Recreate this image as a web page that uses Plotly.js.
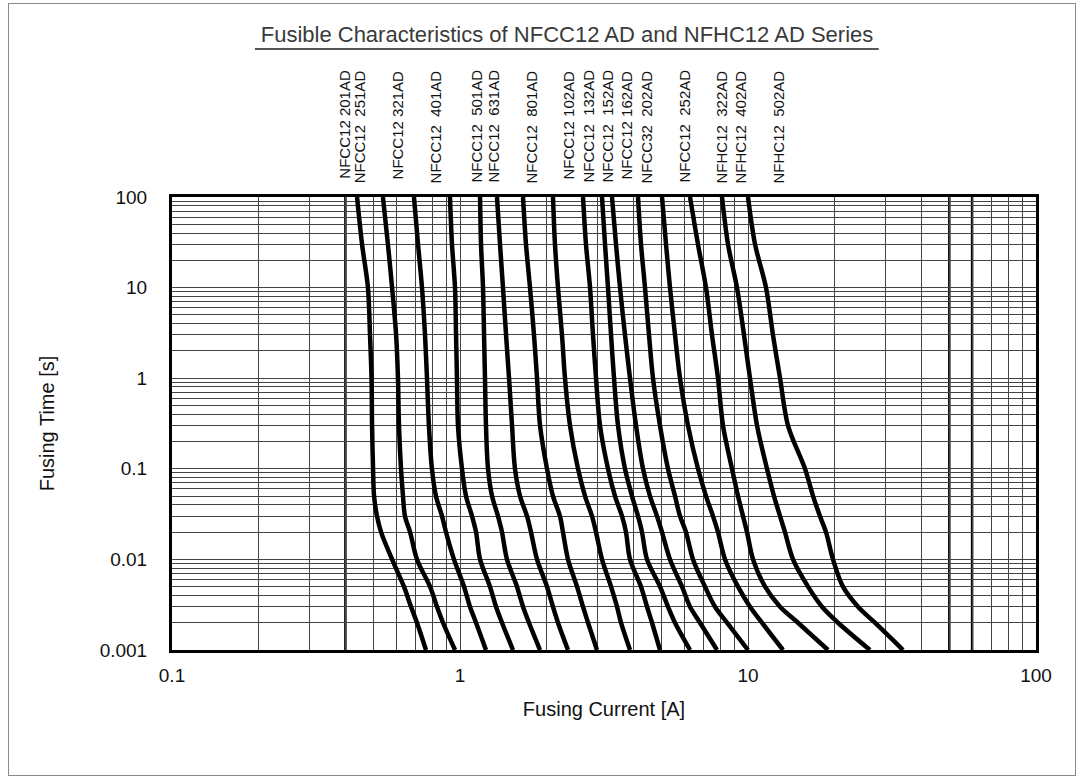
<!DOCTYPE html>
<html><head><meta charset="utf-8">
<script src="https://cdn.plot.ly/plotly-3.0.1.min.js"></script>
<style>
html,body{margin:0;padding:0;background:#fff;}
#frame{position:absolute;left:8px;top:3px;width:1068px;height:773px;border:1px solid #8a8a8a;box-sizing:border-box;}
#chart{position:absolute;left:0;top:0;width:1081px;height:776px;}
</style></head><body>
<div id="frame"></div>
<div id="chart"></div>
<script>
// Fusing time grid (s), shared by all curves
const fuseTimes = [100, 30, 10, 3, 1, 0.3, 0.1, 0.05, 0.03, 0.02, 0.01, 0.005, 0.003, 0.002, 0.001];

// Fusing current (A) of each part at the times above
const NFCC12_201AD = [0.439, 0.457, 0.479, 0.487, 0.493, 0.495, 0.499, 0.503, 0.515, 0.532, 0.581, 0.639, 0.676, 0.709, 0.762];
const NFCC12_251AD = [0.540, 0.562, 0.581, 0.600, 0.609, 0.614, 0.624, 0.634, 0.644, 0.671, 0.709, 0.787, 0.832, 0.873, 0.961];
const NFCC12_321AD = [0.692, 0.715, 0.738, 0.756, 0.768, 0.780, 0.799, 0.825, 0.866, 0.894, 0.953, 1.033, 1.083, 1.137, 1.231];
const NFCC12_401AD = [0.923, 0.938, 0.961, 0.969, 0.976, 0.984, 1.016, 1.049, 1.101, 1.137, 1.174, 1.271, 1.334, 1.399, 1.528];
const NFCC12_501AD = [1.174, 1.183, 1.202, 1.212, 1.221, 1.231, 1.251, 1.292, 1.355, 1.399, 1.456, 1.577, 1.655, 1.736, 1.896];
const NFCC12_631AD = [1.344, 1.377, 1.410, 1.445, 1.480, 1.516, 1.552, 1.616, 1.709, 1.764, 1.851, 2.005, 2.103, 2.189, 2.371];
const NFCC12_801AD = [1.655, 1.695, 1.750, 1.807, 1.851, 1.896, 2.005, 2.103, 2.224, 2.278, 2.371, 2.549, 2.674, 2.783, 2.990];
const NFCC12_102AD = [2.103, 2.137, 2.189, 2.260, 2.315, 2.410, 2.569, 2.717, 2.873, 2.967, 3.112, 3.345, 3.509, 3.623, 3.893];
const NFCC12_132AD = [2.674, 2.738, 2.828, 2.896, 2.967, 3.063, 3.265, 3.453, 3.652, 3.770, 3.893, 4.251, 4.460, 4.642, 4.948];
const NFCC12_152AD = [3.112, 3.188, 3.265, 3.345, 3.426, 3.537, 3.740, 3.956, 4.150, 4.285, 4.460, 4.948, 5.275, 5.579, 6.290];
const NFCC12_162AD = [3.371, 3.481, 3.594, 3.740, 3.893, 4.085, 4.320, 4.568, 4.831, 5.028, 5.360, 5.900, 6.290, 6.813, 7.805];
const NFCC32_202AD = [4.150, 4.251, 4.389, 4.532, 4.679, 4.948, 5.275, 5.579, 5.806, 6.092, 6.442, 7.091, 7.681, 8.455, 10.00];
const NFCC12_252AD = [5.028, 5.192, 5.360, 5.579, 5.806, 6.190, 6.705, 7.148, 7.559, 7.867, 8.321, 9.231, 10.16, 11.18, 13.23];
const NFHC12_322AD = [6.290, 6.705, 7.148, 7.499, 7.867, 8.188, 8.799, 9.231, 9.609, 9.920, 10.41, 11.46, 12.92, 14.91, 18.96];
const NFHC12_402AD = [8.123, 8.523, 9.158, 9.686, 10.16, 10.75, 11.64, 12.31, 12.92, 13.44, 14.33, 16.16, 18.07, 20.54, 26.52];
const NFHC12_502AD = [10.00, 10.58, 11.55, 12.21, 12.92, 13.77, 15.77, 16.82, 17.78, 18.66, 19.73, 21.37, 24.10, 27.60, 34.53];

const seriesCurrents = [NFCC12_201AD, NFCC12_251AD, NFCC12_321AD, NFCC12_401AD, NFCC12_501AD, NFCC12_631AD,
  NFCC12_801AD, NFCC12_102AD, NFCC12_132AD, NFCC12_152AD, NFCC12_162AD, NFCC32_202AD, NFCC12_252AD,
  NFHC12_322AD, NFHC12_402AD, NFHC12_502AD];

// Part labels (top of chart), and the current (A) each label sits above
const partLabels = ["NFCC12 201AD", "NFCC12\u00a0\u00a0251AD", "NFCC12 321AD", "NFCC12\u00a0\u00a0401AD",
  "NFCC12\u00a0\u00a0501AD", "NFCC12\u00a0\u00a0631AD", "NFCC12\u00a0\u00a0801AD", "NFCC12 102AD",
  "NFCC12\u00a0\u00a0132AD", "NFCC12\u00a0\u00a0152AD", "NFCC12 162AD", "NFCC32\u00a0\u00a0202AD",
  "NFCC12\u00a0\u00a0252AD", "NFHC12\u00a0\u00a0322AD", "NFHC12\u00a0\u00a0402AD", "NFHC12\u00a0\u00a0502AD"];
const labelCurrents = [0.396, 0.449, 0.609, 0.825, 1.137, 1.302, 1.764, 2.390, 2.783, 3.239, 3.770, 4.424, 5.995, 8.058, 9.380, 12.71];

// Axis ticks
const xMajor = [0.1, 1, 10, 100];
const xMajorText = ["0.1", "1", "10", "100"];
const yMajor = [0.001, 0.01, 0.1, 1, 10, 100];
const yMajorText = ["0.001", "0.01", "0.1", "1", "10", "100"];
const minorSteps = [2, 3, 4, 5, 6, 7, 8, 9];
const heavyGridX = [0.4, 50, 60];

function logTicks(major, text) {
  const vals = [], txt = [];
  major.forEach((m, i) => {
    vals.push(m); txt.push(text[i]);
    if (i < major.length - 1) minorSteps.forEach(s => { vals.push(m * s); txt.push(""); });
  });
  return {vals, txt};
}
const xt = logTicks(xMajor, xMajorText);
const yt = logTicks(yMajor, yMajorText);

const traces = seriesCurrents.map((cur, i) => ({
  x: cur, y: fuseTimes, type: "scatter", mode: "lines",
  name: partLabels[i].replace(/\u00a0+/g, " "),
  line: {color: "#000", width: 4.5, shape: "spline", smoothing: 0.9},
  hoverinfo: "skip"
}));

const annotations = partLabels.map((t, i) => ({
  text: t, x: Math.log10(labelCurrents[i]), xref: "x", y: 1.2848, yref: "paper",
  textangle: -90, xanchor: "center", yanchor: "top", showarrow: false,
  font: {family: "Liberation Sans, Arial, sans-serif", size: 15, color: "#111"}
}));

const shapes = heavyGridX.map(v => ({
  type: "line", xref: "x", yref: "paper", x0: v, x1: v, y0: 0, y1: 1,
  line: {color: "#000", width: 2.5}, layer: "below"
}));
shapes.push({type: "line", xref: "paper", yref: "paper", x0: 0.096, x1: 0.818, y0: 1.3267, y1: 1.3267,
  line: {color: "#555", width: 2}});

const layout = {
  width: 1081, height: 776,
  margin: {l: 172, r: 45, t: 197, b: 126},
  paper_bgcolor: "rgba(0,0,0,0)", plot_bgcolor: "#fff",
  showlegend: false, hovermode: false,
  font: {family: "Liberation Sans, Arial, sans-serif", color: "#111"},
  title: {
    text: "Fusible Characteristics of NFCC12 AD and NFHC12 AD Series",
    x: 567 / 1081, xanchor: "center", xref: "container",
    y: 1 - 34 / 776, yanchor: "middle", yref: "container",
    font: {family: "Liberation Sans, Arial, sans-serif", size: 22, color: "#3a3a3a"}
  },
  xaxis: {
    type: "log", range: [-1, 2], tickmode: "array", tickvals: xt.vals, ticktext: xt.txt,
    showgrid: true, gridcolor: "#444", gridwidth: 1, zeroline: false,
    showline: true, mirror: true, linecolor: "#000", linewidth: 3,
    ticks: "", ticklabelstandoff: 6,
    tickfont: {size: 19, color: "#111"},
    title: {text: "Fusing Current [A]", font: {size: 20, color: "#111"}, standoff: 18}
  },
  yaxis: {
    type: "log", range: [-3, 2], tickmode: "array", tickvals: yt.vals, ticktext: yt.txt,
    showgrid: true, gridcolor: "#444", gridwidth: 1, zeroline: false,
    showline: true, mirror: true, linecolor: "#000", linewidth: 3,
    ticks: "", ticklabelstandoff: 18,
    tickfont: {size: 19, color: "#111"},
    title: {text: "Fusing Time [s]", font: {size: 20, color: "#111"}, standoff: 40}
  },
  annotations, shapes
};

Plotly.newPlot("chart", traces, layout, {displayModeBar: false, staticPlot: true});
</script>
</body></html>
